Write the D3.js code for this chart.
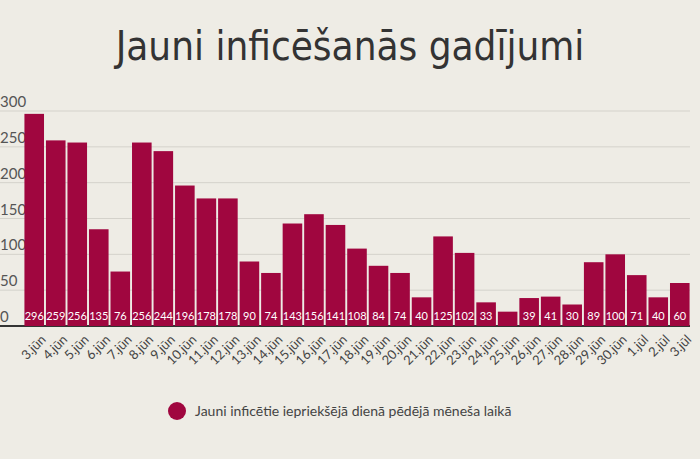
<!DOCTYPE html><html><head><meta charset="utf-8"><script src="https://cdn.jsdelivr.net/npm/d3@7"></script>
<style>body{margin:0;background:#eeece5}</style></head><body><svg id="c" width="700" height="459"></svg>
<script>
const categories=["3.jūn","4.jūn","5.jūn","6.jūn","7.jūn","8.jūn","9.jūn","10.jūn","11.jūn","12.jūn","13.jūn","14.jūn","15.jūn","16.jūn","17.jūn","18.jūn","19.jūn","20.jūn","21.jūn","22.jūn","23.jūn","24.jūn","25.jūn","26.jūn","27.jūn","28.jūn","29.jūn","30.jūn","1.jūl","2.jūl","3.jūl"];
const values=[296,259,256,135,76,256,244,196,178,178,90,74,143,156,141,108,84,74,40,125,102,33,20,39,41,30,89,100,71,40,60];
const labelShown=values.map(v=>v>=25);
const yTicks=[0,50,100,150,200,250,300];
const title="Jauni inficēšanās gadījumi";
const legendLabel="Jauni inficētie iepriekšējā dienā pēdējā mēneša laikā";
const svg=d3.select("#c");
const color="#a0063f";
svg.append("rect").attr("width",700).attr("height",459).attr("fill","#eeece5");
const x=d3.scaleBand().domain(categories).range([24,690]).paddingInner(0.09).paddingOuter(0.02);
const y=d3.scaleLinear().domain([0,300]).range([326,111]);
const g=svg.append("g");
yTicks.forEach(t=>{
 g.append("line").attr("x1",0).attr("x2",690).attr("y1",y(t)).attr("y2",y(t)).attr("stroke",t===0?"#333":"#d4d2cb").attr("stroke-width",t===0?2:1);
 g.append("text").attr("x",0).attr("y",y(t)-4).text(t).attr("font-family","Lato").attr("font-size",15).attr("fill","#555");
});
g.selectAll("rect.b").data(values).join("rect").attr("x",(d,i)=>x(categories[i])).attr("width",x.bandwidth()).attr("y",d=>y(d)).attr("height",d=>y(0)-y(d)).attr("fill",color);
g.selectAll("text.v").data(values).join("text").filter((d,i)=>labelShown[i]).attr("x",(d,i)=>x(categories[values.indexOf(d)===i?i:i])+x.bandwidth()/2);
g.selectAll("text.v").remove();
values.forEach((v,i)=>{ if(!labelShown[i])return;
 g.append("text").attr("x",x(categories[i])+x.bandwidth()/2).attr("y",y(0)-6).attr("text-anchor","middle").attr("font-family","Lato").attr("font-size",11).attr("fill","#fff").text(v);});
categories.forEach((c,i)=>{
 const cx=x(c)+x.bandwidth()/2+6, cy=334;
 g.append("text").attr("transform",`translate(${cx},${cy}) rotate(-45)`).attr("text-anchor","end").attr("dy","0.7em").attr("font-family","Lato").attr("font-size",13).attr("fill","#444").text(c);
});
svg.append("text").attr("x",350).attr("y",60).attr("text-anchor","middle").attr("font-family","'Liberation Sans Narrow','DejaVu Sans Condensed',sans-serif").attr("font-size",40).attr("fill","#333").text(title);
svg.append("circle").attr("cx",177).attr("cy",411).attr("r",9).attr("fill",color);
svg.append("text").attr("x",195).attr("y",416).attr("font-family","Lato").attr("font-size",14).attr("fill","#444").text(legendLabel);
</script></body></html>
